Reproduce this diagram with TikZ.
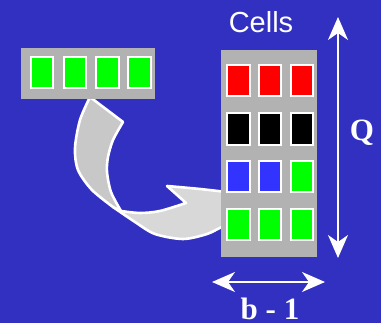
\documentclass[tikz,border=0pt]{standalone}
\usepackage{fontspec}
\setmainfont{Liberation Serif}
\setsansfont{Liberation Sans}
\usetikzlibrary{arrows.meta}
\definecolor{bgblue}{RGB}{50,48,192}
\definecolor{boxgray}{RGB}{178,178,178}
\definecolor{ribdark}{RGB}{200,200,200}
\definecolor{riblight}{RGB}{216,216,216}
\definecolor{cellgreen}{RGB}{0,255,0}
\definecolor{cellred}{RGB}{255,0,0}
\definecolor{cellblue}{RGB}{51,51,255}
\tikzset{
  cell/.style={draw=white, line width=1.7pt, minimum width=22.5pt, minimum height=31.5pt, inner sep=0pt},
  ribbon/.style={draw=white, line width=2.6pt, line join=round},
  dimarrow/.style={draw=white, line width=1.7pt, {Stealth[length=23pt,width=20pt,inset=7pt]}-{Stealth[length=23pt,width=20pt,inset=7pt]}},
  tray/.style={fill=boxgray, inner sep=0pt},
}
\begin{document}
\begin{tikzpicture}[x=1pt,y=-1pt]
\fill[bgblue] (0,0) rectangle (381,323);
\useasboundingbox (0,0) rectangle (381,323);
% curved ribbon arrow
\path[ribbon, fill=riblight] (113,207) -- (121,211)
  -- plot[smooth] coordinates {(121,211) (140,213) (160,211) (186,203)}
  -- (167,186)
  -- plot[smooth] coordinates {(167,186) (200,189) (235,193)}
  -- (235,224)
  -- plot[smooth] coordinates {(235,224) (222,227) (207,234) (183,239) (155,234) (135,222) (113,207)} -- cycle;
\path[ribbon, fill=ribdark] (90,97) -- (123,122)
  -- plot[smooth] coordinates {(123,122) (113,140) (108,157) (107,172) (111,192) (121,211)}
  -- (113,207)
  -- plot[smooth] coordinates {(113,207) (92,190) (78,170) (75,148) (80,120) (90,97)} -- cycle;
% left bar
\node[tray, minimum width=134pt, minimum height=51pt] (bar) at (88,73.5) {};
\foreach \x [count=\i] in {42,75,107.5,139.5}
  \node[cell, fill=cellgreen] (s\i) at (\x,72.5) {};
% right box
\node[tray, minimum width=96pt, minimum height=207pt] (box) at (269,153.5) {};
\foreach \y/\ca/\cb/\cc [count=\r] in {80.5/cellred/cellred/cellred, 129/black/black/black, 176.5/cellblue/cellblue/cellgreen, 224.5/cellgreen/cellgreen/cellgreen}{
  \node[cell, fill=\ca] (c\r a) at (238.5,\y) {};
  \node[cell, fill=\cb] (c\r b) at (270,\y) {};
  \node[cell, fill=\cc] (c\r c) at (302,\y) {};
}
% labels
\node[text=white, font=\sffamily\fontsize{29}{29}\selectfont, anchor=base] (cells) at (261,33) {Cells};
\coordinate (qtop) at (338,17);
\coordinate (qbot) at (338,258);
\draw[dimarrow] (qtop) -- (qbot);
\node[text=white, font=\bfseries\fontsize{31}{31}\selectfont, anchor=base] (q) at (362,141) {Q};
\coordinate (bl) at (212,282);
\coordinate (br) at (325,282);
\draw[dimarrow] (bl) -- (br);
\node[text=white, font=\bfseries\fontsize{31}{31}\selectfont, anchor=base] (b) at (270,320) {b - 1};
\end{tikzpicture}
\end{document}
